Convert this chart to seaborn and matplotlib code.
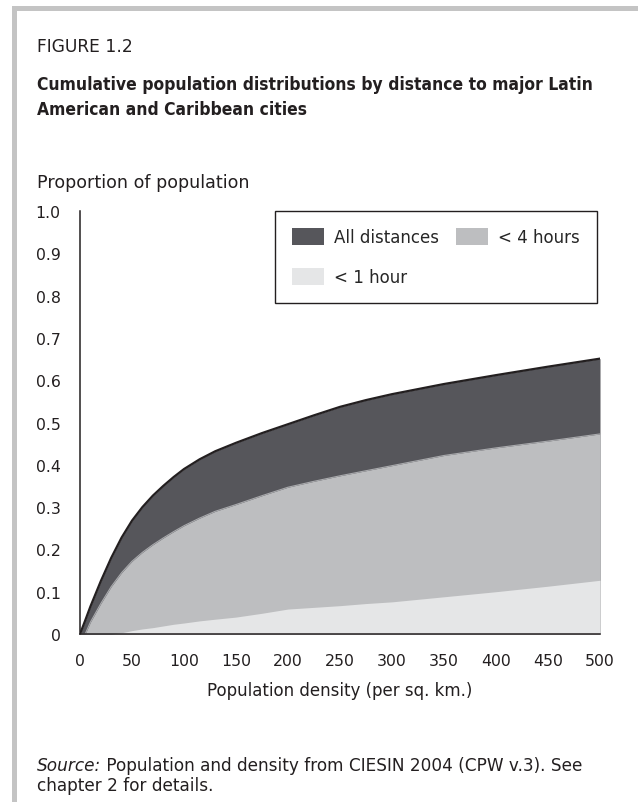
import numpy as np
import matplotlib
matplotlib.use('Agg')
import matplotlib.pyplot as plt
from matplotlib.patches import Rectangle, Patch
import pandas as pd
import seaborn as sns

# values
density = [0, 5, 10, 20, 30, 40, 50, 60, 70, 80, 90, 100, 115, 130, 150, 175, 200,
           225, 250, 275, 300, 350, 400, 450, 500]
all_distances = [0, 0.032, 0.065, 0.125, 0.18, 0.228, 0.268, 0.3, 0.327, 0.35, 0.371, 0.39,
                 0.413, 0.432, 0.452, 0.475, 0.496, 0.517, 0.537, 0.553, 0.567, 0.591,
                 0.612, 0.632, 0.651]
under_4_hours = [0, 0, 0.028, 0.072, 0.112, 0.145, 0.172, 0.193, 0.211, 0.227, 0.242, 0.256,
                 0.274, 0.29, 0.306, 0.327, 0.347, 0.361, 0.374, 0.386, 0.398, 0.422,
                 0.44, 0.456, 0.473]
under_1_hour = [0, 0, 0, 0, 0, 0.003, 0.008, 0.012, 0.015, 0.019, 0.023, 0.026, 0.031, 0.035,
                0.04, 0.049, 0.059, 0.063, 0.067, 0.072, 0.076, 0.088, 0.1, 0.113, 0.127]

x_ticks = [0, 50, 100, 150, 200, 250, 300, 350, 400, 450, 500]
y_ticks = [0, 0.1, 0.2, 0.3, 0.4, 0.5, 0.6, 0.7, 0.8, 0.9, 1.0]
y_ticklabels = ['0', '0.1', '0.2', '0.3', '0.4', '0.5', '0.6', '0.7', '0.8', '0.9', '1.0']

c_all = '#56565b'
c_4h = '#bdbec0'
c_1h = '#e5e6e7'
ink = '#231f20'

sns.set_style('white')
plt.rcParams['font.family'] = ['DejaVu Sans']

df = pd.DataFrame({'density': density, 'all': all_distances,
                   '4h': under_4_hours, '1h': under_1_hour})

fig = plt.figure(figsize=(6.38, 8.03), dpi=100)

# grey frame on top and left
fig.patches.append(Rectangle((12 / 638, 0), 5 / 638, 1 - 7 / 803, transform=fig.transFigure,
                             facecolor='#c4c4c4', edgecolor='none'))
fig.patches.append(Rectangle((12 / 638, 1 - 12 / 803), 1, 5 / 803, transform=fig.transFigure,
                             facecolor='#c4c4c4', edgecolor='none'))

ax = fig.add_axes([80 / 638, 1 - 635 / 803, 520 / 638, 423 / 803])

ax.fill_between(df['density'], 0, df['all'], color=c_all, linewidth=0)
ax.fill_between(df['density'], 0, df['4h'], color=c_4h, linewidth=0)
ax.fill_between(df['density'], 0, df['1h'], color=c_1h, linewidth=0)
sns.lineplot(x='density', y='4h', data=df, ax=ax, color='#a9aaad', linewidth=0.8)
sns.lineplot(x='density', y='all', data=df, ax=ax, color=ink, linewidth=1.6)

ax.set_xlim(0, 500)
ax.set_ylim(0, 1.0)
ax.set_xticks(x_ticks)
ax.set_yticks(y_ticks)
ax.set_yticklabels(y_ticklabels)
sns.despine(ax=ax)
for s in ['left', 'bottom']:
    ax.spines[s].set_color(ink)
    ax.spines[s].set_linewidth(1.1)
ax.tick_params(axis='both', direction='out', length=8, width=1.1, color=ink,
               labelsize=11.3, labelcolor=ink, pad=6)
ax.set_ylabel('')
ax.set_xlabel('Population density (per sq. km.)', fontsize=12, color=ink)
ax.xaxis.set_label_coords(0.5, -0.112)

handles = [Patch(facecolor=c_all, edgecolor='none', label='All distances'),
           Patch(facecolor=c_1h, edgecolor='none', label='< 1 hour'),
           Patch(facecolor=c_4h, edgecolor='none', label='< 4 hours')]
leg = ax.legend(handles=handles, ncol=2, loc='upper right', bbox_to_anchor=(0.994, 1.0),
                borderaxespad=0, fontsize=12, frameon=True, fancybox=False, framealpha=1,
                edgecolor=ink, handlelength=1.95, handleheight=1.25, labelspacing=1.3,
                handletextpad=0.6, columnspacing=1.0, borderpad=1.0)
leg.get_frame().set_linewidth(1.0)

fig.text(37 / 638, 1 - 47 / 803, 'FIGURE 1.2', fontsize=12.3, color=ink, va='center', ha='left')
t1 = fig.text(37 / 638, 1 - 85 / 803,
              'Cumulative population distributions by distance to major Latin',
              fontsize=13, fontweight='bold', color=ink, va='center', ha='left',
              family='DejaVu Sans', fontstretch='condensed')
t2 = fig.text(37 / 638, 1 - 110 / 803, 'American and Caribbean cities',
              fontsize=13, fontweight='bold', color=ink, va='center', ha='left',
              family='DejaVu Sans', fontstretch='condensed')
# fit the bold title to the width it has in the original
r = fig.canvas.get_renderer()
w = t1.get_window_extent(r).width
fs = 13 * 556 / w
t1.set_fontsize(fs)
t2.set_fontsize(fs)

fig.text(37 / 638, 1 - 183 / 803, 'Proportion of population', fontsize=12.6, color=ink,
         va='center', ha='left')

src = fig.text(37 / 638, 1 - 771 / 803, 'Source:', fontsize=12.2, style='italic', color=ink,
               va='baseline', ha='left')
ax.annotate(' Population and density from CIESIN 2004 (CPW v.3). See', xy=(1, 0), xycoords=src,
            va='bottom', ha='left', fontsize=12.2, color=ink, annotation_clip=False)
fig.text(37 / 638, 1 - 791 / 803, 'chapter 2 for details.', fontsize=12.2, color=ink,
         va='baseline', ha='left')

fig.savefig('out.png', dpi=100)
